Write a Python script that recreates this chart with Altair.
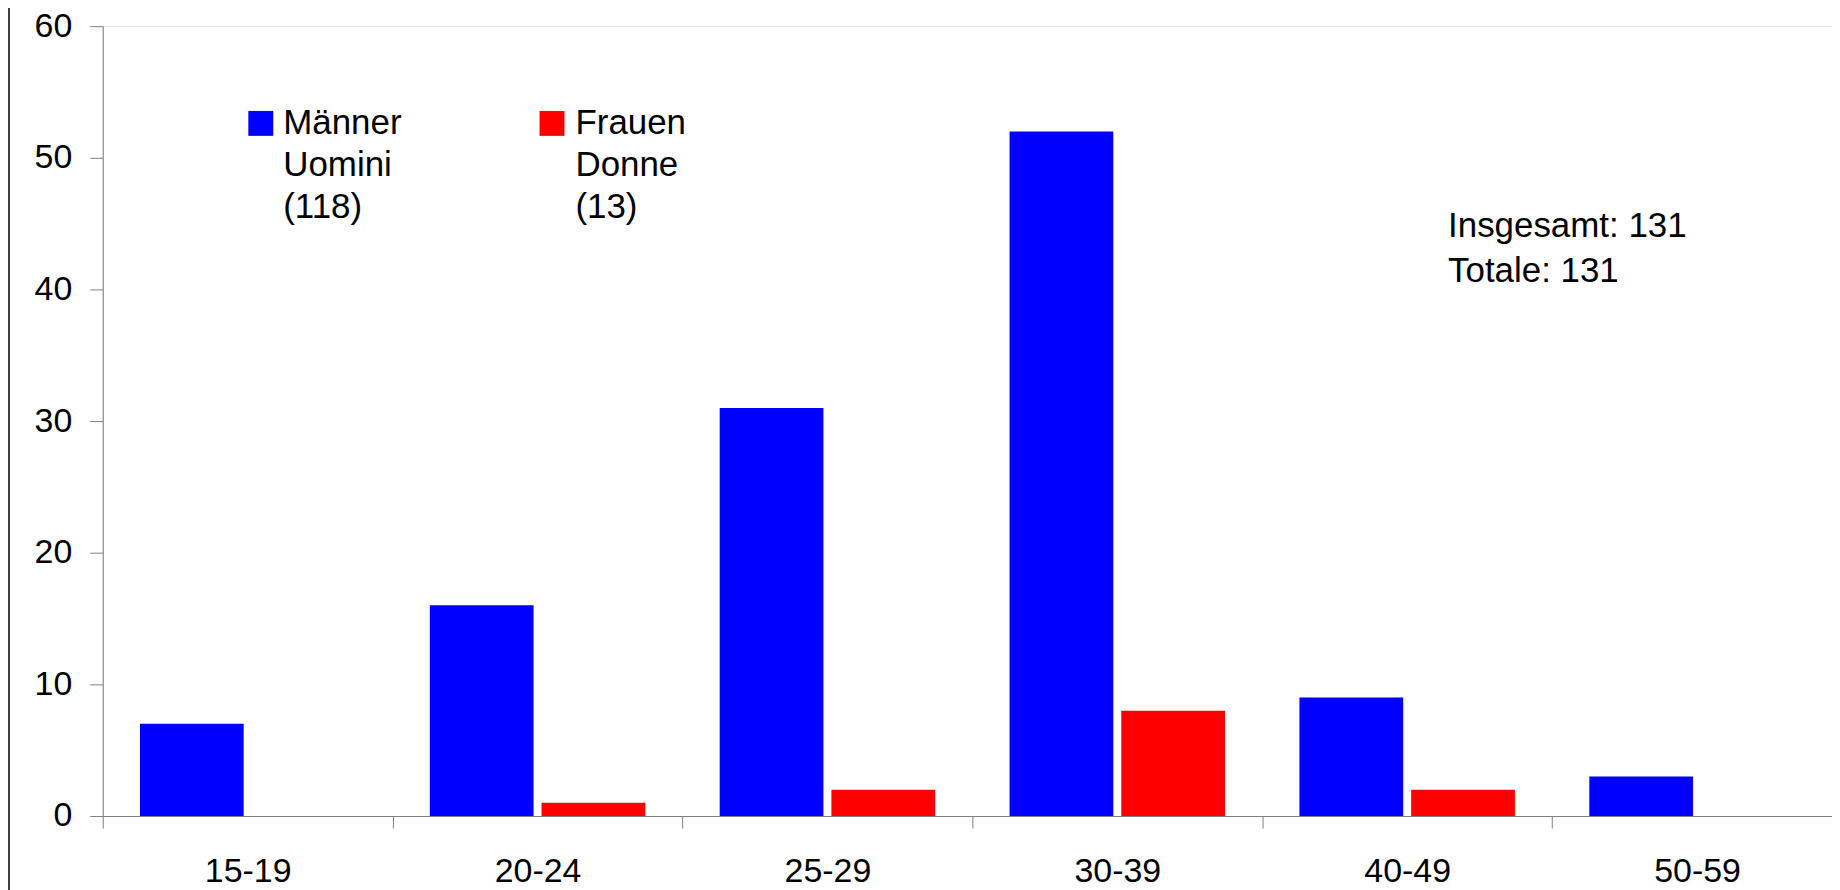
import altair as alt
import pandas as pd

groups = ["15-19", "20-24", "25-29", "30-39", "40-49", "50-59"]
maenner = [7, 16, 31, 52, 9, 3]
frauen = [0, 1, 2, 8, 2, 0]
series_keys = ["M", "F"]
series_colors = ["#0000FF", "#FF0000"]
legend_lines = [["Männer", "Uomini", "(118)"], ["Frauen", "Donne", "(13)"]]
total_lines = ["Insgesamt: 131", "Totale: 131"]

rows = []
for g, m, f in zip(groups, maenner, frauen):
    rows.append({"group": g, "series": "M", "value": m})
    rows.append({"group": g, "series": "F", "value": f})
df = pd.DataFrame(rows)

W, H = 1744, 792
FONT = "Liberation Sans"

bars = alt.Chart(df).mark_bar(strokeWidth=0).encode(
    x=alt.X("group:N", sort=groups, title=None,
            scale=alt.Scale(paddingInner=0, paddingOuter=0),
            axis=alt.Axis(labelAngle=0, tickBand="extent", tickSize=12,
                          labelPadding=27, labelFontSize=34, labelFont=FONT,
                          labelColor="black", domainColor="#808080",
                          tickColor="#808080", grid=False)),
    xOffset=alt.XOffset("series:N", sort=series_keys,
                        scale=alt.Scale(paddingInner=0.0714, paddingOuter=0.333)),
    y=alt.Y("value:Q", title=None,
            scale=alt.Scale(domain=[0, 60], nice=False),
            axis=alt.Axis(values=[0, 10, 20, 30, 40, 50, 60], tickSize=13,
                          labelPadding=18, labelFontSize=34, labelFont=FONT,
                          labelColor="black", domainColor="#808080",
                          tickColor="#808080", grid=False)),
    color=alt.Color("series:N", sort=series_keys,
                    scale=alt.Scale(domain=series_keys, range=series_colors),
                    legend=None),
)

leg_df = pd.DataFrame({
    "key": series_keys,
    "lines": legend_lines,
    "sx": [158.5, 450.5],
    "tx": [181, 474],
})

leg_sq = alt.Chart(leg_df).mark_square(size=625, opacity=1).encode(
    x=alt.X("sx:Q", scale=None),
    y=alt.value(97.5),
    color=alt.Color("key:N", scale=alt.Scale(domain=series_keys, range=series_colors), legend=None),
)

leg_txt = alt.Chart(leg_df).mark_text(
    align="left", baseline="alphabetic", fontSize=35, font=FONT,
    lineHeight=42, color="black"
).encode(
    x=alt.X("tx:Q", scale=None),
    y=alt.value(108),
    text="lines",
)

tot_df = pd.DataFrame({"lines": [total_lines]})
tot_txt = alt.Chart(tot_df).mark_text(
    align="left", baseline="alphabetic", fontSize=35, font=FONT,
    lineHeight=46, color="black"
).encode(
    x=alt.value(1349),
    y=alt.value(211),
    text="lines",
)

frame = alt.Chart(pd.DataFrame({"a": [0]})).mark_rule(color="#404040", strokeWidth=2).encode(
    x=alt.value(-94), y=alt.value(-25), y2=alt.value(870)
)

chart = alt.layer(bars, leg_sq, leg_txt, tot_txt, frame).properties(
    width=W, height=H,
    autosize=alt.AutoSizeParams(type="none"),
    padding={"left": 95, "top": 17, "right": -10, "bottom": 73},
).configure_view(stroke=None).configure(background="white")

chart.save("out.html", embed_options={"renderer": "svg", "actions": False})
